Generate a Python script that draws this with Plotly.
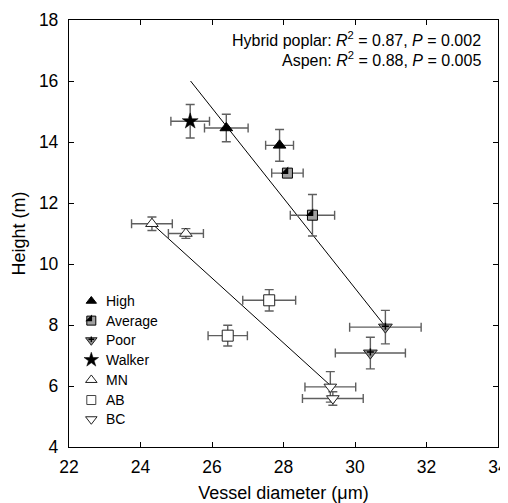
import plotly.graph_objects as go

# ---------------- data ----------------
high_x = [26.40, 27.89]
high_y = [14.46, 13.89]
high_xerr = [0.61, 0.39]
high_yerr = [0.45, 0.52]

avg_x = [28.11, 28.81]
avg_y = [12.98, 11.60]
avg_xerr = [0.44, 0.62]
avg_yerr = [0.12, 0.68]

poor_x = [30.85, 30.43]
poor_y = [7.93, 7.08]
poor_xerr = [1.00, 0.98]
poor_yerr = [0.55, 0.52]

walker_x = [25.39]
walker_y = [14.68]
walker_xerr = [0.54]
walker_yerr = [0.55]

mn_x = [24.32, 25.27]
mn_y = [11.32, 11.00]
mn_xerr = [0.57, 0.49]
mn_yerr = [0.22, 0.16]

ab_x = [27.60, 26.44]
ab_y = [8.81, 7.65]
ab_xerr = [0.74, 0.55]
ab_yerr = [0.35, 0.34]

bc_x = [29.31, 29.38]
bc_y = [5.97, 5.59]
bc_xerr = [0.71, 0.85]
bc_yerr = [0.50, 0.22]

hp_fit_x = [25.40, 30.85]
hp_fit_y = [16.00, 7.95]
aspen_fit_x = [24.37, 29.31]
aspen_fit_y = [11.27, 6.02]

legend_labels = ["High", "Average", "Poor", "Walker", "MN", "AB", "BC"]
x_ticks = [22, 24, 26, 28, 30, 32, 34]
y_ticks = [4, 6, 8, 10, 12, 14, 16, 18]
stats_lines = [
    "Hybrid poplar: <i>R</i><sup>2</sup> = 0.87, <i>P</i> = 0.002",
    "Aspen: <i>R</i><sup>2</sup> = 0.88, <i>P</i> = 0.005",
]

# ---------------- layout constants ----------------
# (page body has an 8 px margin, so the figure is 500 x 495)
W, H = 500, 495
ML, MR, MT, MB = 61, 10, 12, 56
PW, PH = W - ML - MR, H - MT - MB
XR, YR = [22, 34], [4, 18]
px_per_x = PW / (XR[1] - XR[0])
px_per_y = PH / (YR[1] - YR[0])

FONT = "Liberation Sans, Arial, sans-serif"
ERR_COL = "#5f5f5f"
GRAY_FILL = "#a0a0a0"
POOR_FILL = "#8c8c8c"

SQ = 10          # square marker size
TRI_SE = SQ / 1.2  # black half of the split square
off_px = (SQ / 2) / 3.0

fig = go.Figure()

# regression lines
fig.add_trace(go.Scatter(x=hp_fit_x, y=hp_fit_y, mode="lines",
                         line=dict(color="black", width=1), showlegend=False))
fig.add_trace(go.Scatter(x=aspen_fit_x, y=aspen_fit_y, mode="lines",
                         line=dict(color="black", width=1), showlegend=False))


def err(vals, w=4.5):
    return dict(type="data", array=vals, visible=True, color=ERR_COL,
                thickness=1.4, width=w)


def pts(x, y, xe, ye, marker):
    fig.add_trace(go.Scatter(x=x, y=y, mode="markers", marker=marker,
                             error_x=err(xe), error_y=err(ye),
                             showlegend=False, hoverinfo="x+y"))


# Aspen
pts(mn_x, mn_y, mn_xerr, mn_yerr,
    dict(symbol="triangle-up", size=11, color="white", line=dict(color="#222", width=1)))
pts(ab_x, ab_y, ab_xerr, ab_yerr,
    dict(symbol="square", size=11, color="white", line=dict(color="#222", width=1)))
pts(bc_x, bc_y, bc_xerr, bc_yerr,
    dict(symbol="triangle-down", size=11, color="white", line=dict(color="#222", width=1)))

# Hybrid poplar
pts(walker_x, walker_y, walker_xerr, walker_yerr,
    dict(symbol="star", size=12, color="black", line=dict(color="black", width=0.5)))
pts(high_x, high_y, high_xerr, high_yerr,
    dict(symbol="triangle-up", size=11, color="black", line=dict(color="black", width=1)))
pts(avg_x, avg_y, avg_xerr, avg_yerr,
    dict(symbol="square", size=SQ, color=GRAY_FILL, line=dict(color="black", width=1)))
fig.add_trace(go.Scatter(
    x=[v - off_px / px_per_x for v in avg_x],
    y=[v + off_px / px_per_y for v in avg_y],
    mode="markers", showlegend=False, hoverinfo="skip",
    marker=dict(symbol="triangle-se", size=TRI_SE, color="black", line=dict(width=0))))
pts(poor_x, poor_y, poor_xerr, poor_yerr,
    dict(symbol="triangle-down", size=12, color=POOR_FILL, line=dict(color="#222", width=1)))
fig.add_trace(go.Scatter(x=poor_x, y=[v + 1.0 / px_per_y for v in poor_y],
                         mode="markers", showlegend=False, hoverinfo="skip",
                         marker=dict(symbol="cross-thin", size=5,
                                     line=dict(color="black", width=1.5))))

# ---------------- custom legend (overlay axes in plot-area fractions) ----------------
leg_x = 0.052
leg_text_x = 0.081
leg_y = [0.342, 0.296, 0.250, 0.204, 0.157, 0.110, 0.065]
leg_markers = [
    dict(symbol="triangle-up", size=9, color="black", line=dict(color="black", width=1)),
    dict(symbol="square", size=9, color=GRAY_FILL, line=dict(color="black", width=1)),
    dict(symbol="triangle-down", size=10, color=POOR_FILL, line=dict(color="#222", width=1)),
    dict(symbol="star", size=11, color="black", line=dict(color="black", width=0.5)),
    dict(symbol="triangle-up", size=10, color="white", line=dict(color="#222", width=1)),
    dict(symbol="square", size=9, color="white", line=dict(color="#444", width=1)),
    dict(symbol="triangle-down", size=10, color="white", line=dict(color="#222", width=1)),
]
for yy, mk in zip(leg_y, leg_markers):
    fig.add_trace(go.Scatter(x=[leg_x], y=[yy], mode="markers", marker=mk,
                             xaxis="x2", yaxis="y2", showlegend=False, hoverinfo="skip"))
# split-square overlay and poor cross in legend
lo = (9 / 2) / 3.0
fig.add_trace(go.Scatter(x=[leg_x - lo / PW], y=[leg_y[1] + lo / PH], mode="markers",
                         marker=dict(symbol="triangle-se", size=9 / 1.2, color="black",
                                     line=dict(width=0)),
                         xaxis="x2", yaxis="y2", showlegend=False, hoverinfo="skip"))
fig.add_trace(go.Scatter(x=[leg_x], y=[leg_y[2] + 1.0 / PH], mode="markers",
                         marker=dict(symbol="cross-thin", size=4,
                                     line=dict(color="black", width=1.3)),
                         xaxis="x2", yaxis="y2", showlegend=False, hoverinfo="skip"))

annotations = []
for yy, lab in zip(leg_y, legend_labels):
    annotations.append(dict(x=leg_text_x, y=yy, xref="x2", yref="y2", text=lab,
                            showarrow=False, xanchor="left", yanchor="middle",
                            font=dict(family=FONT, size=14, color="black")))
for i, s in enumerate(stats_lines):
    annotations.append(dict(x=0.966, y=[0.955, 0.908][i], xref="x2", yref="y2", text=s,
                            showarrow=False, xanchor="right", yanchor="middle",
                            font=dict(family=FONT, size=16, color="black")))

axis_common = dict(showline=True, linecolor="black", linewidth=1.3, mirror="ticks",
                   ticks="inside", ticklen=5, tickwidth=1.3, tickcolor="black",
                   showgrid=False, zeroline=False, automargin=False,
                   ticklabeloverflow="allow",
                   tickfont=dict(family=FONT, size=17.5, color="black"))

fig.update_layout(
    width=W, height=H,
    margin=dict(l=ML, r=MR, t=MT, b=MB, pad=0),
    paper_bgcolor="white", plot_bgcolor="white",
    showlegend=False,
    xaxis=dict(range=XR, tickvals=x_ticks, ticklabelstandoff=4, **axis_common,
               title=dict(text="Vessel diameter (μm)", standoff=10,
                          font=dict(family=FONT, size=18, color="black"))),
    yaxis=dict(range=YR, tickvals=y_ticks, ticklabelstandoff=6, **axis_common,
               title=dict(text="Height (m)", standoff=8,
                          font=dict(family=FONT, size=18, color="black"))),
    xaxis2=dict(overlaying="x", range=[0, 1], visible=False),
    yaxis2=dict(overlaying="y", range=[0, 1], visible=False),
    annotations=annotations,
)

fig.write_html("out.html")
